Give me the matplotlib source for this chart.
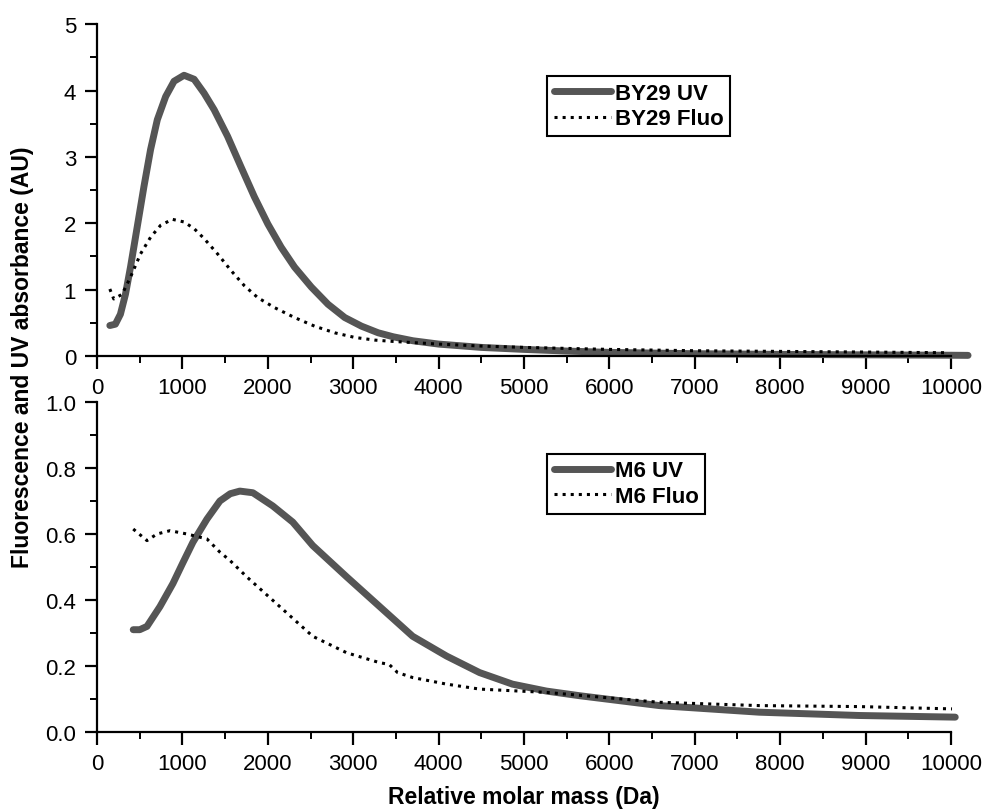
import numpy as np
import matplotlib
matplotlib.use('Agg')
import matplotlib.pyplot as plt
from matplotlib.ticker import MultipleLocator

plt.rcParams['font.family'] = ['Liberation Sans', 'DejaVu Sans']

# BY29 (top panel)
by29_uv_x = [150, 215, 274, 333, 392, 470, 549, 627, 706, 804, 902, 1019, 1137, 1254, 1372,
             1529, 1686, 1842, 2000, 2156, 2313, 2509, 2705, 2901, 3097, 3293, 3469, 3700,
             4000, 4500, 5000, 5500, 6000, 7000, 8000, 9000, 10000, 10200]
by29_uv_y = [0.46, 0.48, 0.63, 0.93, 1.34, 1.94, 2.55, 3.11, 3.56, 3.91, 4.14, 4.23, 4.17, 3.96, 3.71,
             3.31, 2.85, 2.40, 1.99, 1.64, 1.34, 1.04, 0.78, 0.58, 0.45, 0.35, 0.29, 0.23,
             0.18, 0.13, 0.10, 0.075, 0.055, 0.035, 0.025, 0.018, 0.012, 0.01]
by29_fl_x = [150, 196, 294, 392, 510, 627, 745, 882, 1019, 1137, 1254, 1411, 1568, 1725, 1882,
             2078, 2313, 2548, 2783, 3019, 3254, 3469, 4000, 4500, 5000, 6000, 7000, 8000,
             9000, 9950]
by29_fl_y = [1.01, 0.86, 0.93, 1.19, 1.54, 1.79, 1.97, 2.06, 2.02, 1.92, 1.77, 1.54, 1.29, 1.06, 0.88,
             0.73, 0.58, 0.45, 0.35, 0.28, 0.24, 0.22, 0.18, 0.15, 0.13, 0.10, 0.08, 0.07,
             0.06, 0.05]

# M6 (bottom panel)
m6_uv_x = [424, 500, 585, 737, 889, 1000, 1123, 1287, 1439, 1560, 1672, 1825, 2058, 2292, 2526,
           2924, 3310, 3696, 4094, 4480, 4865, 5263, 5649, 6585, 7754, 8924, 10050]
m6_uv_y = [0.31, 0.31, 0.32, 0.38, 0.45, 0.51, 0.575, 0.645, 0.70, 0.722, 0.73, 0.725, 0.685, 0.636,
           0.565, 0.47, 0.38, 0.29, 0.23, 0.18, 0.145, 0.124, 0.11, 0.08, 0.06, 0.05, 0.045]
m6_fl_x = [424, 585, 702, 854, 1053, 1287, 1439, 1556, 1754, 2140, 2526, 2924, 3310, 3420,
           3520, 3696, 4094, 4480, 4865, 5263, 6585, 7754, 8924, 10012]
m6_fl_y = [0.615, 0.58, 0.60, 0.61, 0.60, 0.585, 0.545, 0.52, 0.47, 0.38, 0.29, 0.24, 0.21, 0.205,
           0.18, 0.165, 0.145, 0.13, 0.125, 0.12, 0.09, 0.08, 0.077, 0.07]

uv_color = '#555555'

fig = plt.figure(figsize=(9.87, 8.12), dpi=100)
ax1 = fig.add_axes([0.0983, 0.5603, 0.8652, 0.4087])
ax2 = fig.add_axes([0.0983, 0.0973, 0.8652, 0.4064])

panels = [
    (ax1, by29_uv_x, by29_uv_y, by29_fl_x, by29_fl_y, 'BY29 UV', 'BY29 Fluo', 5, 1, 0.5),
    (ax2, m6_uv_x, m6_uv_y, m6_fl_x, m6_fl_y, 'M6 UV', 'M6 Fluo', 1.0, 0.2, 0.1),
]

for ax, ux, uy, fx, fy, ulab, flab, ymax, ymaj, ymin in panels:
    ax.plot(ux, uy, '-', color=uv_color, lw=5, solid_capstyle='round',
            solid_joinstyle='round', label=ulab, clip_on=False)
    ax.plot(fx, fy, ':', color='black', lw=2.2, label=flab, clip_on=False)
    ax.set_xlim(0, 10000)
    ax.set_ylim(0, ymax)
    ax.spines['top'].set_visible(False)
    ax.spines['right'].set_visible(False)
    ax.spines['left'].set_linewidth(1.6)
    ax.spines['bottom'].set_linewidth(1.6)
    ax.xaxis.set_major_locator(MultipleLocator(1000))
    ax.xaxis.set_minor_locator(MultipleLocator(500))
    ax.yaxis.set_major_locator(MultipleLocator(ymaj))
    ax.yaxis.set_minor_locator(MultipleLocator(ymin))
    ax.tick_params(which='major', direction='out', length=9, width=1.6, labelsize=16, pad=6)
    ax.tick_params(which='minor', direction='out', length=5, width=1.4)
    leg = ax.legend(loc='upper left', bbox_to_anchor=(0.527, 0.843),
                    fancybox=False, edgecolor='black', framealpha=1,
                    prop={'weight': 'bold', 'size': 16}, handlelength=2.6,
                    handletextpad=0.15, borderpad=0.3, labelspacing=0.2, borderaxespad=0)
    leg.get_frame().set_linewidth(1.5)

ax1.set_yticklabels([str(int(v)) for v in ax1.get_yticks()])
ax2.set_yticklabels(['%.1f' % v for v in ax2.get_yticks()])

fig.text(0.023, 0.56, 'Fluorescence and UV absorbance (AU)', rotation=90,
         ha='center', va='center', fontsize=16.5, fontweight='bold')
fig.text(0.531, 0.004, 'Relative molar mass (Da)', ha='center', va='bottom',
         fontsize=16.5, fontweight='bold')

fig.savefig('out.png', dpi=100)
